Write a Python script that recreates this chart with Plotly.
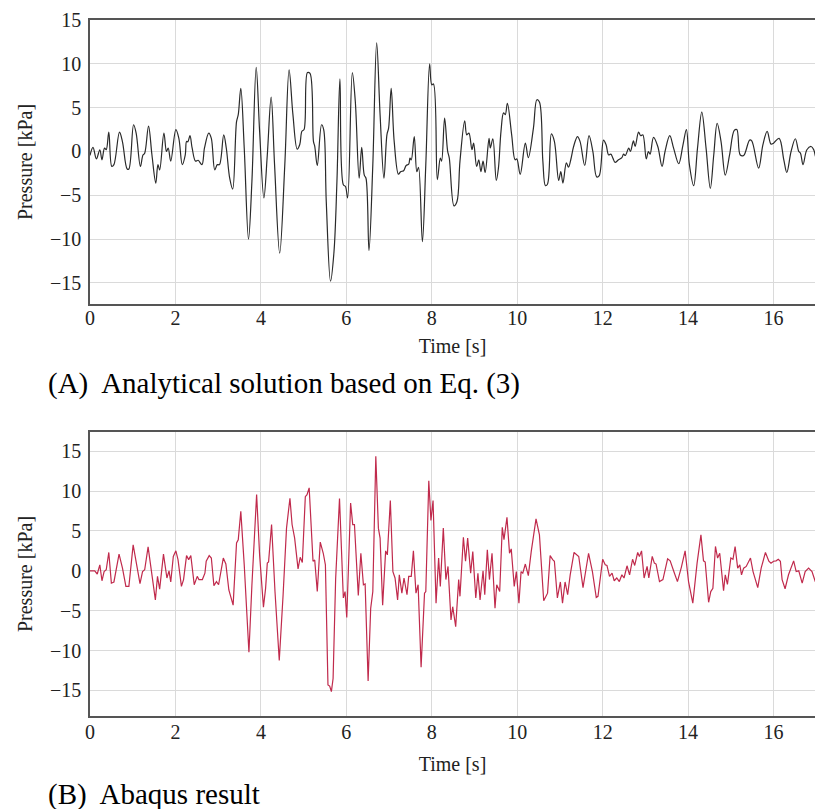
import plotly.graph_objects as go

# (A) Analytical solution: time [s], pressure [kPa]
t_a = [0.00, 0.07, 0.15, 0.23, 0.28, 0.34, 0.38, 0.44, 0.51, 0.56, 0.69, 0.76, 0.87, 0.91,
       1.02, 1.08, 1.18, 1.24, 1.28, 1.37, 1.45, 1.54, 1.59, 1.63, 1.73, 1.79, 1.83, 1.89,
       2.01, 2.08, 2.16, 2.23, 2.26, 2.29, 2.34, 2.39, 2.47, 2.53, 2.62, 2.68, 2.78, 2.84,
       2.92, 2.98, 3.03, 3.13, 3.19, 3.27, 3.34, 3.43, 3.47, 3.53, 3.61, 3.71, 3.79, 3.89,
       3.97, 4.07, 4.15, 4.24, 4.32, 4.44, 4.56, 4.66, 4.75, 4.85, 4.91, 4.96, 5.01, 5.09,
       5.15, 5.23, 5.26, 5.32, 5.42, 5.47, 5.53, 5.63, 5.71, 5.78, 5.85, 5.93, 5.98, 6.03,
       6.14, 6.21, 6.30, 6.36, 6.42, 6.46, 6.53, 6.62, 6.71, 6.79, 6.88, 6.95, 6.99, 7.05,
       7.12, 7.22, 7.27, 7.34, 7.40, 7.46, 7.49, 7.52, 7.59, 7.65, 7.69, 7.78, 7.86, 7.95,
       8.00, 8.04, 8.13, 8.20, 8.23, 8.30, 8.37, 8.41, 8.52, 8.59, 8.66, 8.77, 8.82, 8.87,
       8.94, 8.98, 9.05, 9.10, 9.15, 9.20, 9.25, 9.34, 9.37, 9.43, 9.51, 9.56, 9.62, 9.68,
       9.72, 9.77, 9.87, 9.95, 9.99, 10.07, 10.19, 10.26, 10.38, 10.46, 10.52, 10.60, 10.66,
       10.71, 10.80, 10.87, 10.97, 11.02, 11.07, 11.15, 11.20, 11.26, 11.32, 11.41, 11.47,
       11.58, 11.68, 11.77, 11.86, 11.92, 12.02, 12.08, 12.14, 12.19, 12.24, 12.29, 12.37,
       12.45, 12.49, 12.53, 12.61, 12.65, 12.72, 12.76, 12.84, 12.89, 12.94, 13.02, 13.07,
       13.11, 13.19, 13.29, 13.39, 13.46, 13.57, 13.66, 13.78, 13.88, 13.96, 14.03, 14.13,
       14.22, 14.32, 14.42, 14.52, 14.60, 14.68, 14.77, 14.87, 14.97, 15.08, 15.14, 15.22,
       15.30, 15.44, 15.49, 15.65, 15.75, 15.85, 15.94, 16.00, 16.13, 16.24, 16.31, 16.41,
       16.51, 16.59, 16.63, 16.69, 16.78, 16.88, 16.94, 16.98]
p_a = [-0.45, 0.46, -0.84, 0.2, -0.95, 0.38, 0.2, 2.2, -1.7, -1.5, 2.2, 1.1, -2.0, -2.0,
       3.05, 2.1, -1.7, -0.4, -0.2, 2.9, -0.4, -3.6, -1.5, -2.1, 2.1, 0.0, 0.4, -1.1,
       2.5, 1.5, -1.5, -0.4, 1.15, 1.1, 1.8, 0.4, -1.1, -1.0, -1.5, 0.4, 2.1, 1.5,
       -2.1, -1.5, -1.5, 1.9, 0.4, -3.05, -4.3, 3.4, 4.2, 7.2, 0.4, -10.0, -3.4, 9.6,
       2.3, -5.3, -0.4, 6.2, -1.5, -11.6, -1.5, 9.3, 4.2, 0.27, 0.8, 2.3, 2.5, 9.0,
       8.9, 1.15, 0.6, -1.6, 3.05, 2.5, -5.7, -14.8, -11.5, -3.4, 8.3, -3.8, -4.0, -5.3,
       9.0, 5.7, -3.05, 0.46, -2.7, -3.05, -11.3, -1.5, 12.4, 4.2, -3.05, 1.9, 2.7, 7.2,
       1.15, -2.6, -2.3, -2.2, -1.6, -1.45, -0.76, -0.95, 1.7, -2.3, -1.8, -10.3, -1.5, 10.0,
       7.6, 7.7, -3.2, -0.76, -1.1, 3.8, 0.08, -0.76, -6.2, -5.7, -1.1, 3.5, 1.9, 2.1,
       0.2, 0.95, -1.7, -0.95, -2.3, -1.1, -2.4, 1.5, 0.4, 1.45, -3.3, -1.9, 2.3, 4.4,
       4.2, 5.5, 1.9, -0.95, -0.84, -2.6, 0.95, -0.7, 2.7, 5.9, 5.65, -1.1, -3.9,
       -3.7, 2.0, 1.15, -3.3, -2.3, -3.6, -1.3, -1.8, -0.8, 0.57, 1.7, 1.15,
       -1.6, 1.8, 0.0, -2.9, -2.75, 1.3, 0.76, -0.4, -0.3, -0.76, -1.25, -0.95,
       -0.7, -0.3, -0.46, 0.38, 0.0, 1.2, 0.57, 2.2, 1.8, 1.9, -0.84, 0.0,
       -0.3, 1.6, 0.57, -1.7, 0.0, 1.8, 0.38, -1.4, 0.76, 2.5, -1.5, -3.9,
       0.38, 4.5, 0.38, -4.2, -0.4, 3.2, 1.15, -2.7, -0.4, 2.4, 2.5, -0.4,
       -0.46, 1.3, 1.2, -1.9, 0.76, 2.3, 0.84, 0.95, 1.5, -0.95, -2.4, 0.0,
       1.45, 0.0, -0.2, -1.5, 0.2, 0.57, 0.2, -0.57]

# (B) Abaqus result: time [s], pressure [kPa]
t_b = [0.00, 0.11, 0.17, 0.23, 0.28, 0.33, 0.38, 0.44, 0.50, 0.56, 0.68, 0.76, 0.84, 0.91,
       1.01, 1.06, 1.17, 1.23, 1.28, 1.36, 1.44, 1.53, 1.58, 1.63, 1.72, 1.80, 1.85, 1.89,
       1.95, 2.01, 2.06, 2.14, 2.19, 2.26, 2.31, 2.36, 2.44, 2.51, 2.55, 2.63, 2.69, 2.72,
       2.79, 2.84, 2.90, 2.96, 3.01, 3.12, 3.18, 3.25, 3.35, 3.43, 3.47, 3.53, 3.61, 3.72,
       3.79, 3.90, 3.97, 4.06, 4.11, 4.15, 4.18, 4.25, 4.33, 4.43, 4.52, 4.60, 4.68, 4.73,
       4.79, 4.87, 4.92, 4.97, 5.04, 5.08, 5.13, 5.22, 5.26, 5.32, 5.39, 5.46, 5.51, 5.57,
       5.61, 5.65, 5.69, 5.75, 5.84, 5.93, 5.97, 6.01, 6.10, 6.15, 6.19, 6.28, 6.34, 6.40,
       6.44, 6.51, 6.57, 6.62, 6.69, 6.75, 6.79, 6.85, 6.92, 6.96, 7.03, 7.09, 7.14, 7.20,
       7.24, 7.30, 7.35, 7.42, 7.46, 7.52, 7.57, 7.63, 7.68, 7.75, 7.83, 7.86, 7.93, 7.98,
       8.03, 8.10, 8.16, 8.20, 8.27, 8.33, 8.38, 8.45, 8.49, 8.56, 8.63, 8.66, 8.74, 8.79,
       8.84, 8.91, 8.96, 9.03, 9.08, 9.13, 9.20, 9.24, 9.30, 9.35, 9.41, 9.48, 9.52, 9.59,
       9.65, 9.69, 9.76, 9.82, 9.86, 9.93, 9.98, 10.04, 10.09, 10.13, 10.19, 10.26, 10.33,
       10.38, 10.44, 10.52, 10.62, 10.71, 10.77, 10.83, 10.87, 10.94, 11.01, 11.06, 11.12,
       11.18, 11.24, 11.33, 11.44, 11.54, 11.67, 11.76, 11.85, 11.89, 12.00, 12.06, 12.10,
       12.16, 12.22, 12.27, 12.33, 12.39, 12.45, 12.50, 12.57, 12.63, 12.70, 12.75, 12.82,
       12.86, 12.91, 12.97, 13.04, 13.08, 13.16, 13.21, 13.25, 13.33, 13.41, 13.52, 13.58,
       13.68, 13.75, 13.84, 13.93, 14.01, 14.11, 14.21, 14.30, 14.36, 14.40, 14.48, 14.53,
       14.58, 14.64, 14.69, 14.74, 14.83, 14.87, 14.92, 15.00, 15.05, 15.10, 15.16, 15.21,
       15.25, 15.30, 15.36, 15.46, 15.52, 15.63, 15.71, 15.81, 15.89, 15.94, 16.00, 16.06,
       16.11, 16.16, 16.20, 16.27, 16.35, 16.47, 16.53, 16.59, 16.67, 16.74, 16.82, 16.90,
       16.98]
p_b = [0.0, 0.0, -0.4, 0.75, -1.25, -0.1, 0.13, 2.3, -1.55, -1.4, 2.1, 0.33, -1.95, -1.95,
       3.25, 1.8, -1.6, -0.1, 0.13, 3.0, -0.1, -3.65, -0.7, -2.3, 2.1, -0.9, 0.0, -1.4,
       1.8, 2.5, 1.4, -1.95, -1.1, 1.9, 1.4, 1.9, -1.75, -0.7, -1.1, -1.1, -0.3, 1.2,
       1.9, 1.6, -1.85, -1.35, -1.75, 1.6, 0.85, -2.4, -4.3, 3.5, 3.9, 7.45, 0.75, -10.2,
       -1.75, 9.55, 2.0, -4.55, -2.2, 0.96, 1.1, 5.8, -2.6, -11.25, -3.0, 5.35, 9.1, 5.8,
       4.1, 0.25, 1.7, 1.05, 9.3, 9.55, 10.4, 1.2, 1.35, -2.6, 3.6, 2.2, 0.75, -14.3,
       -14.45, -15.15, -13.5, -1.0, 9.05, -3.4, -2.6, -5.85, 8.5, 5.8, 5.8, -3.1, 2.2, -1.75,
       -1.65, -13.8, -4.7, -2.6, 14.35, 5.35, 4.1, -4.3, 2.5, 2.0, 8.8, -0.1, -0.9, -3.65,
       -0.5, -2.8, -0.9, -3.0, -0.7, -0.7, 2.5, -2.8, -1.75, -12.1, -2.8, -2.6, 11.3, 6.3,
       8.8, -4.05, 1.6, -1.95, 5.35, -1.1, 0.55, -6.15, -4.5, -7.0, -1.1, -3.2, 4.2, 1.2,
       4.1, -0.3, 2.4, -3.4, -0.3, -3.65, 0.0, -3.0, 2.65, -1.1, 2.2, -4.7, -1.75, -2.6,
       5.45, 3.9, 6.7, 2.2, 2.75, -1.95, -0.1, -4.05, -0.1, -0.3, 0.85, -0.6, 2.5,
       4.1, 6.5, 4.5, -3.75, -2.8, 1.9, 1.4, 1.2, -3.4, -1.4, -4.05, -1.4,
       -3.0, -0.5, 2.3, 1.8, -2.1, 2.2, -0.1, -3.35, -3.2, 1.45, 0.75, 0.67,
       -0.7, -0.3, -1.25, -0.9, -1.35, -0.5, -0.9, 0.63, -0.5, 1.45, 0.67, 2.3,
       1.8, 2.5, -0.9, 0.55, -0.9, 1.8, 0.96, 0.85, -1.35, -1.1, 1.5, 1.25,
       -0.3, -1.35, 0.4, 2.5, -1.35, -4.05, 0.96, 4.5, 1.25, 1.1, -3.95, -2.6,
       -2.2, 3.05, 1.6, 2.2, -2.5, -0.5, -1.7, 1.6, 1.45, 3.05, 0.33, 0.75,
       -0.5, 0.33, 0.55, 1.6, -0.1, -2.1, 0.33, 2.3, 1.2, 0.96, 1.2, 1.25,
       1.45, 1.2, -1.1, -2.25, -0.5, 1.25, -0.1, 0.0, -1.55, -0.1, 0.33, -0.1,
       -1.4]

x_ticks = [0, 2, 4, 6, 8, 10, 12, 14, 16]
y_ticks = [-15, -10, -5, 0, 5, 10, 15]
x_title = "Time [s]"
y_title = "Pressure [kPa]"
caption_a = "(A)  Analytical solution based on Eq. (3)"
caption_b = "(B)  Abaqus result"

W, H = 815, 809
FONT = "Liberation Serif"
FS = 20

fig = go.Figure()
fig.add_trace(go.Scatter(x=t_a, y=p_a, mode="lines", xaxis="x", yaxis="y",
                         line=dict(color="#2a2a2a", width=1.2, shape="spline", smoothing=1.0),
                         showlegend=False, hoverinfo="skip"))
fig.add_trace(go.Scatter(x=t_b, y=p_b, mode="lines", xaxis="x2", yaxis="y2",
                         line=dict(color="#c02a4c", width=1.2),
                         showlegend=False, hoverinfo="skip"))

def xax(anchor, standoff_lbl, standoff_title):
    return dict(range=[0, 16.97], tickvals=x_ticks, ticktext=[str(v) for v in x_ticks],
                showgrid=True, gridcolor="#dadada", gridwidth=1, zeroline=False,
                showline=True, linecolor="#555555", linewidth=1.5, mirror=True,
                ticks="", ticklabelstandoff=standoff_lbl, automargin=False,
                tickfont=dict(family=FONT, size=FS, color="#222"),
                title=dict(text=x_title, font=dict(family=FONT, size=FS, color="#222"),
                           standoff=standoff_title),
                domain=[90 / W, 1.0], anchor=anchor)

def yax(rng, dom, anchor):
    return dict(range=rng, tickvals=y_ticks, ticktext=[str(v).replace("-", "\u2212") for v in y_ticks],
                showgrid=True, gridcolor="#dadada", gridwidth=1, zeroline=False,
                showline=True, linecolor="#555555", linewidth=1.5, mirror=False,
                ticks="", ticklabelstandoff=3, automargin=False,
                tickfont=dict(family=FONT, size=FS, color="#222"),
                title=dict(text=y_title, font=dict(family=FONT, size=FS, color="#222"), standoff=12),
                domain=dom, anchor=anchor)

fig.update_layout(
    width=W, height=H,
    margin=dict(l=0, r=0, t=0, b=0),
    paper_bgcolor="white", plot_bgcolor="white",
    xaxis=xax("y", -5, 11),
    yaxis=yax([-17.4, 15.0], [1 - 304 / H, 1 - 20 / H], "x"),
    xaxis2=xax("y2", -3, 15),
    yaxis2=yax([-18.2, 17.4], [1 - 716 / H, 1 - 432 / H], "x2"),
    annotations=[
        dict(text=caption_a, x=46 / W, y=1 - 383 / H, xref="paper", yref="paper",
             xanchor="left", yanchor="middle", showarrow=False,
             font=dict(family=FONT, size=29, color="black")),
        dict(text=caption_b, x=46 / W, y=1 - 794 / H, xref="paper", yref="paper",
             xanchor="left", yanchor="middle", showarrow=False,
             font=dict(family=FONT, size=29, color="black")),
    ],
)

fig.write_html("out.html")
